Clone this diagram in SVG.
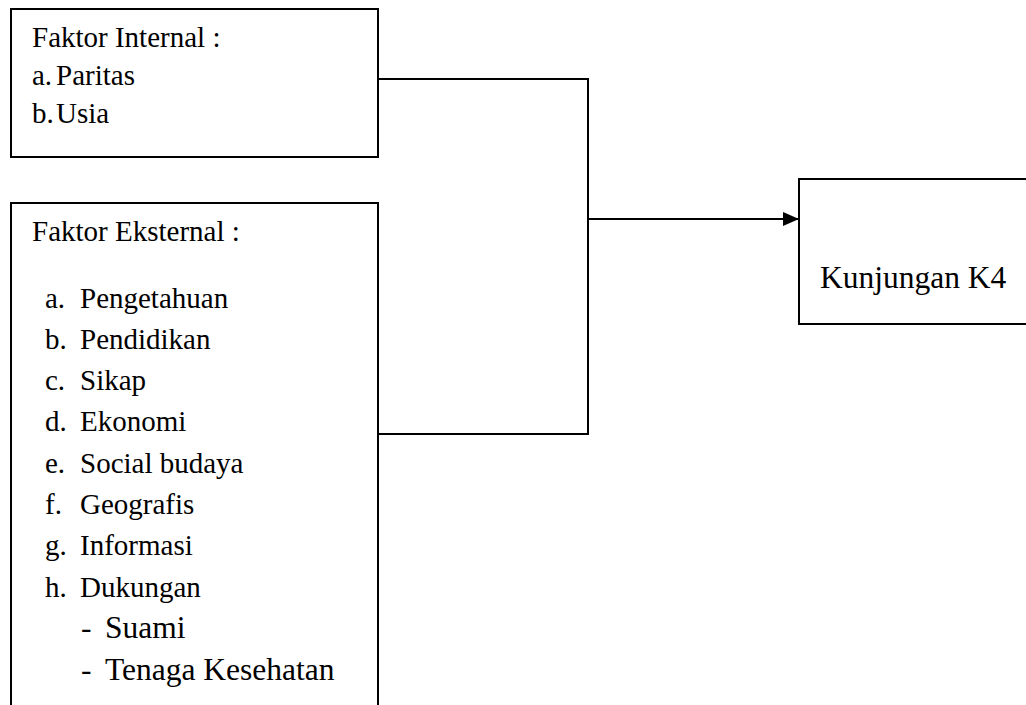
<svg xmlns="http://www.w3.org/2000/svg" width="1026" height="705" viewBox="0 0 1026 705">
<style>
.box{fill:#fff;stroke:#000;stroke-width:2}
.t{font-family:"Liberation Serif","Times New Roman",serif;font-size:29px;fill:#000}
.t2{font-family:"Liberation Serif","Times New Roman",serif;font-size:31.5px;fill:#000}
.c{fill:none;stroke:#000;stroke-width:2}
</style>
<defs>
<marker id="arr" markerWidth="16" markerHeight="16" refX="16" refY="8" orient="auto" markerUnits="userSpaceOnUse">
<path d="M0,1 L16,8 L0,15 Z" fill="#000"/>
</marker>
</defs>
<rect width="1026" height="705" fill="#fff"/>
<g id="connectors">
<path class="c" d="M378,79 H588 V434 H378"/>
<path class="c" d="M588,219 H799" marker-end="url(#arr)"/>
</g>
<g id="faktor-internal">
<rect class="box" x="11" y="9" width="367" height="148"/>
<text class="t" x="32" y="47">Faktor Internal :</text>
<text class="t" x="32" y="85">a.</text><text class="t" x="56" y="85">Paritas</text>
<text class="t" x="32" y="123">b.</text><text class="t" x="56" y="123">Usia</text>
</g>
<g id="faktor-eksternal">
<path class="box" d="M11,710 V203 H378 V710"/>
<text class="t" x="32" y="241">Faktor Eksternal :</text>
<text class="t" x="45" y="308">a.</text><text class="t" x="80" y="308">Pengetahuan</text>
<text class="t" x="45" y="349">b.</text><text class="t" x="80" y="349">Pendidikan</text>
<text class="t" x="45" y="390">c.</text><text class="t" x="80" y="390">Sikap</text>
<text class="t" x="45" y="431">d.</text><text class="t" x="80" y="431">Ekonomi</text>
<text class="t" x="45" y="473">e.</text><text class="t" x="80" y="473">Social budaya</text>
<text class="t" x="45" y="514">f.</text><text class="t" x="80" y="514">Geografis</text>
<text class="t" x="45" y="555">g.</text><text class="t" x="80" y="555">Informasi</text>
<text class="t" x="45" y="597">h.</text><text class="t" x="80" y="597">Dukungan</text>
<text class="t2" x="81" y="638">-</text><text class="t2" x="105" y="638">Suami</text>
<text class="t2" x="81" y="680">-</text><text class="t2" x="105" y="680">Tenaga Kesehatan</text>
</g>
<g id="kunjungan-k4">
<path class="box" d="M1030,179 H799 V324 H1030"/>
<text class="t2" x="820" y="288">Kunjungan K4</text>
</g>
</svg>
